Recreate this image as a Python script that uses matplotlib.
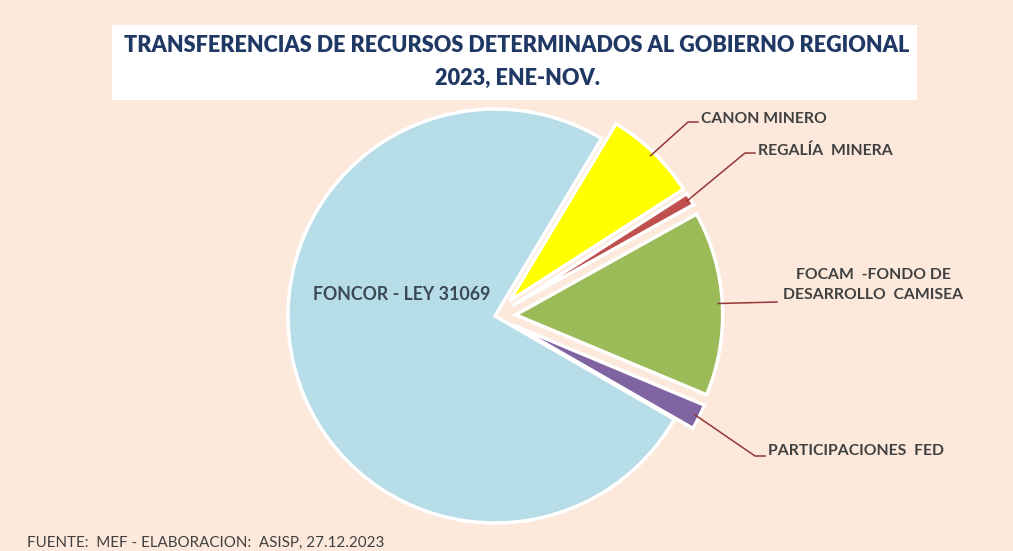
import numpy as np
import matplotlib
matplotlib.use("Agg")
import matplotlib.pyplot as plt
from matplotlib.patches import Rectangle

# datos (% aprox.)
labels = ["CANON MINERO", "REGALÍA  MINERA", "FOCAM  -FONDO DE\nDESARROLLO  CAMISEA",
          "PARTICIPACIONES  FED", "FONCOR - LEY 31069"]
values = [7.3, 1.0, 14.4, 2.0, 75.3]
colors = ["#FFFF00", "#C0504D", "#9BBB59", "#8064A2", "#B7DDE8"]
explode = [0.1, 0.1, 0.1, 0.1, 0.0]

W, H = 1013, 551
BG = "#FCE9DC"
plt.rcParams["font.family"] = ["Lato", "DejaVu Sans"]

fig = plt.figure(figsize=(W / 100, H / 100), dpi=100, facecolor=BG)

# pie axes placed in pixel terms
CX, CY, R = 495, 316, 207
L = 1.5
ax = fig.add_axes([(CX - L * R) / W, (H - CY - L * R) / H, 2 * L * R / W, 2 * L * R / H])

wedges, _ = ax.pie(values, colors=colors, explode=explode, startangle=59,
                   counterclock=False, radius=1,
                   wedgeprops=dict(edgecolor="white", linewidth=2.5))
ax.set_xlim(-L, L)
ax.set_ylim(-L, L)
ax.axis("off")

def px(x, y):
    return ((x - CX) / R, (CY - y) / R)

# leader lines + labels (elbow, end of line, text pos, alignment)
lab_pos = [
    ((688, 122), (698, 122), (701, 119), "left"),
    ((745, 153), (755, 153), (758, 151), "left"),
    (None, (777, 302), (873, 285), "center"),
    ((755, 456), (765, 456), (768, 451), "left"),
]
line_col = "#953735"
for i in range(4):
    w = wedges[i]
    mid = np.deg2rad((w.theta1 + w.theta2) / 2)
    r = 1.0 + explode[i] - 0.02
    a = (r * np.cos(mid), r * np.sin(mid))
    elbow, end, tpos, ha = lab_pos[i]
    pts = [a] + ([px(*elbow)] if elbow else []) + [px(*end)]
    xs, ys = zip(*pts)
    ax.plot(xs, ys, color=line_col, lw=1.1, clip_on=False)
    tx, ty = px(*tpos)
    ax.text(tx, ty, labels[i], ha=ha, va="center", fontsize=11.3, color="#404040",
            fontweight="bold", linespacing=1.5, clip_on=False)

tx, ty = px(402, 295)
ax.text(tx, ty, labels[4], ha="center", va="center", fontsize=12.8,
        color="#3B4A54", fontweight="bold")

# title box
fig.patches.append(Rectangle((112 / W, 1 - 100 / H), (917 - 112) / W, 75 / H,
                             transform=fig.transFigure, facecolor="white",
                             edgecolor="none", zorder=0))
fig.text(517 / W, 1 - 45 / H, "TRANSFERENCIAS DE RECURSOS DETERMINADOS AL GOBIERNO REGIONAL",
         ha="center", va="center", fontsize=15.6, fontweight="heavy", color="#1F3864")
fig.text(517 / W, 1 - 78 / H, "2023, ENE-NOV.", ha="center", va="center",
         fontsize=15.6, fontweight="heavy", color="#1F3864")

fig.text(27 / W, 1 - 543 / H, "FUENTE:  MEF - ELABORACION:  ASISP, 27.12.2023",
         ha="left", va="center", fontsize=10.9, color="#404040")

fig.savefig("out.png", dpi=100, facecolor=BG)
